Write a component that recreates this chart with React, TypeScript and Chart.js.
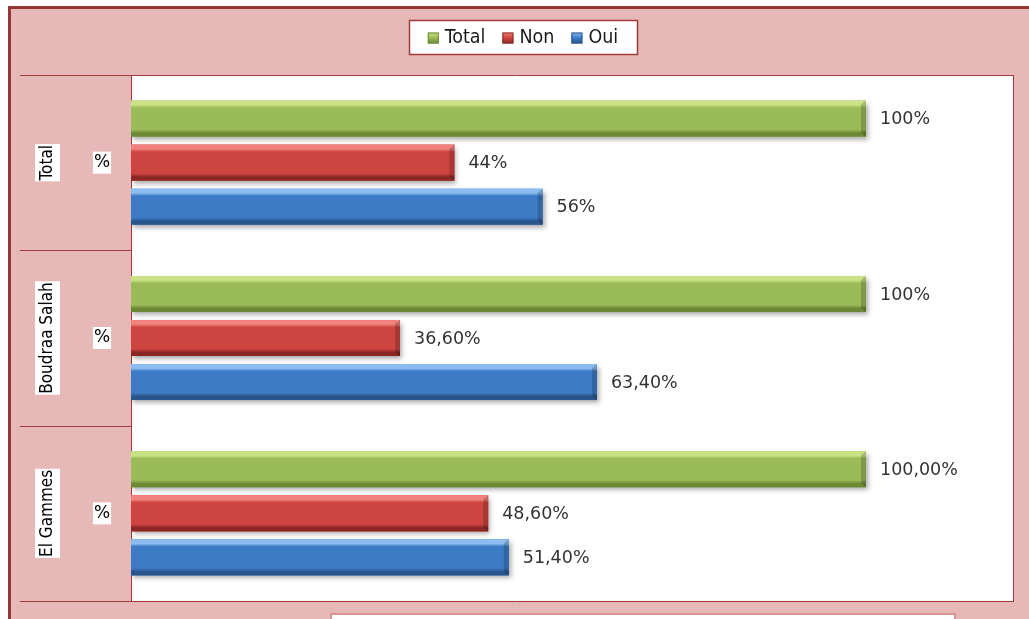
import React, { useEffect, useRef } from 'react';
import { Chart, registerables } from 'chart.js';
Chart.register(...registerables);

const categories = ['Total', 'Boudraa Salah', 'El Gammes'];
const subLabels = ['%', '%', '%'];
const seriesNames = ['Total', 'Non', 'Oui'];
const totalValues = [1.0, 1.0, 1.0];
const nonValues = [0.44, 0.366, 0.486];
const ouiValues = [0.56, 0.634, 0.514];
const totalLabels = ['100%', '100%', '100,00%'];
const nonLabels = ['44%', '36,60%', '48,60%'];
const ouiLabels = ['56%', '63,40%', '51,40%'];
const xMax = 1.2;

const palette = [
  { mid: '#9BBB59', light: '#C9E283', dark: '#6C8834' },
  { mid: '#CD4440', light: '#F0817D', dark: '#8A2725' },
  { mid: '#3D7BC6', light: '#8BBDF0', dark: '#2A558C' },
];
const valueLabels = [totalLabels, nonLabels, ouiLabels];

const PINK = '#E6B8B7';
const FRAME = '#953735';
const LINE = '#A23B3B';
const LEGEND_FONT = "19.5px 'DejaVu Sans Condensed', 'Liberation Sans Narrow', 'DejaVu Sans', sans-serif";
const CAT_FONT = "17px 'DejaVu Sans Condensed', 'Liberation Sans Narrow', 'DejaVu Sans', sans-serif";
const VALUE_FONT = "17.5px 'DejaVu Sans', Verdana, sans-serif";

const decorPlugin = {
  id: 'decor',
  beforeDraw(chart: any) {
    const { ctx, chartArea: ca, width, height } = chart;
    ctx.save();
    ctx.fillStyle = '#FFFFFF';
    ctx.fillRect(0, 0, width, height);
    ctx.fillStyle = FRAME;
    ctx.fillRect(8, 6, width - 8, 3);
    ctx.fillRect(8, 6, 3, height - 6);
    ctx.fillStyle = PINK;
    ctx.fillRect(11, 9, width - 11, height - 9);
    // plot area
    ctx.fillStyle = '#FFFFFF';
    ctx.fillRect(ca.left, ca.top, ca.right - ca.left, ca.bottom - ca.top);
    // bottom white box
    ctx.fillStyle = '#FFFFFF';
    ctx.fillRect(331, 614, 624, 10);
    ctx.strokeStyle = '#D99594';
    ctx.lineWidth = 2;
    ctx.strokeRect(331, 614, 624, 10);

    // category separators
    const ys = chart.scales.y;
    const n = categories.length;
    const bounds: number[] = [ca.top];
    for (let i = 0; i < n - 1; i++) {
      bounds.push((ys.getPixelForValue(i) + ys.getPixelForValue(i + 1)) / 2);
    }
    bounds.push(ca.bottom);
    ctx.strokeStyle = LINE;
    ctx.lineWidth = 1;
    ctx.beginPath();
    bounds.forEach((b, i) => {
      const yy = Math.round(b) + 0.5;
      const xEnd = i === 0 || i === bounds.length - 1 ? ca.right : ca.left;
      ctx.moveTo(20, yy);
      ctx.lineTo(xEnd, yy);
    });
    ctx.moveTo(Math.round(ca.left) + 0.5, ca.top);
    ctx.lineTo(Math.round(ca.left) + 0.5, ca.bottom + 1);
    ctx.moveTo(Math.round(ca.right) + 0.5, ca.top);
    ctx.lineTo(Math.round(ca.right) + 0.5, ca.bottom + 1);
    ctx.stroke();

    // legend
    const lx = 409, ly = 20, lw = 228, lh = 34;
    ctx.fillStyle = '#FFFFFF';
    ctx.fillRect(lx, ly, lw, lh);
    ctx.strokeStyle = LINE;
    ctx.lineWidth = 1.5;
    ctx.strokeRect(lx + 0.5, ly + 0.5, lw, lh);
    ctx.font = LEGEND_FONT;
    ctx.textBaseline = 'middle';
    const sq = 11, gapIn = 6, gapOut = 17;
    let total = 0;
    seriesNames.forEach((s, i) => {
      total += sq + gapIn + ctx.measureText(s).width + (i < seriesNames.length - 1 ? gapOut : 0);
    });
    let x = lx + (lw - total) / 2;
    const cy = ly + lh / 2 + 1;
    seriesNames.forEach((s, i) => {
      const p = palette[i];
      const g = ctx.createLinearGradient(0, cy - sq / 2, 0, cy + sq / 2);
      g.addColorStop(0, p.light);
      g.addColorStop(0.5, p.mid);
      g.addColorStop(1, p.dark);
      ctx.fillStyle = g;
      ctx.fillRect(x, cy - sq / 2, sq, sq);
      ctx.strokeStyle = p.dark;
      ctx.lineWidth = 1;
      ctx.strokeRect(x + 0.5, cy - sq / 2 + 0.5, sq - 1, sq - 1);
      x += sq + gapIn;
      ctx.fillStyle = '#1A1A1A';
      ctx.textAlign = 'left';
      ctx.fillText(s, x, cy);
      x += ctx.measureText(s).width + gapOut;
    });
    ctx.restore();
  },
  beforeDatasetsDraw(chart: any) {
    const ctx = chart.ctx;
    ctx.save();
    ctx.shadowColor = 'rgba(0,0,0,0.35)';
    ctx.shadowBlur = 5;
    ctx.shadowOffsetX = 2;
    ctx.shadowOffsetY = 3;
  },
  afterDatasetsDraw(chart: any) {
    const ctx = chart.ctx;
    ctx.restore();
    ctx.save();
    chart.data.datasets.forEach((ds: any, di: number) => {
      const meta = chart.getDatasetMeta(di);
      const p = palette[di];
      meta.data.forEach((el: any, i: number) => {
        const top = el.y - el.height / 2;
        const bot = el.y + el.height / 2;
        const left = el.base;
        const right = el.x;
        const g = ctx.createLinearGradient(0, top, 0, bot);
        g.addColorStop(0, p.light);
        g.addColorStop(0.12, p.light);
        g.addColorStop(0.2, p.mid);
        g.addColorStop(0.8, p.mid);
        g.addColorStop(0.9, p.dark);
        g.addColorStop(1, p.dark);
        ctx.fillStyle = g;
        ctx.fillRect(left, top, right - left, bot - top);
        // end bevel
        ctx.fillStyle = 'rgba(0,0,0,0.18)';
        ctx.beginPath();
        ctx.moveTo(right, top);
        ctx.lineTo(right, bot);
        ctx.lineTo(right - 5, bot - 4);
        ctx.lineTo(right - 5, top + 4);
        ctx.closePath();
        ctx.fill();
        // value label
        ctx.font = VALUE_FONT;
        ctx.fillStyle = '#333333';
        ctx.textAlign = 'left';
        ctx.textBaseline = 'middle';
        ctx.fillText(valueLabels[di][i], right + 14, el.y + 1);
      });
    });
    ctx.restore();
  },
  afterDraw(chart: any) {
    const { ctx } = chart;
    const ys = chart.scales.y;
    ctx.save();
    categories.forEach((c, i) => {
      const cy = ys.getPixelForValue(i);
      // rotated category name
      ctx.font = CAT_FONT;
      const w = ctx.measureText(c).width;
      const cx = 47;
      ctx.fillStyle = '#FFFFFF';
      ctx.fillRect(cx - 12, cy - w / 2 - 1, 25, w + 2);
      ctx.save();
      ctx.translate(cx, cy);
      ctx.rotate(-Math.PI / 2);
      ctx.fillStyle = '#000000';
      ctx.textAlign = 'center';
      ctx.textBaseline = 'middle';
      ctx.fillText(c, 0, 1);
      ctx.restore();
      // sub label
      ctx.font = "17px 'DejaVu Sans', sans-serif";
      const sw = ctx.measureText(subLabels[i]).width;
      const sx = 102;
      ctx.fillStyle = '#FFFFFF';
      ctx.fillRect(sx - sw / 2 - 1, cy - 11, sw + 2, 22);
      ctx.fillStyle = '#000000';
      ctx.textAlign = 'center';
      ctx.textBaseline = 'middle';
      ctx.fillText(subLabels[i], sx, cy);
    });
    ctx.restore();
  },
};

export default function App() {
  const ref = useRef<HTMLCanvasElement>(null);
  useEffect(() => {
    if (!ref.current) return;
    const chart = new Chart(ref.current, {
      type: 'bar',
      data: {
        labels: categories,
        datasets: [
          { label: seriesNames[0], data: totalValues, backgroundColor: palette[0].mid },
          { label: seriesNames[1], data: nonValues, backgroundColor: palette[1].mid },
          { label: seriesNames[2], data: ouiValues, backgroundColor: palette[2].mid },
        ],
      },
      options: {
        indexAxis: 'y',
        responsive: false,
        animation: false,
        layout: { padding: { left: 131, right: 16, top: 75, bottom: 18 } },
        datasets: { bar: { categoryPercentage: 0.753, barPercentage: 0.82 } },
        scales: {
          x: { display: false, min: 0, max: xMax },
          y: { display: false },
        },
        plugins: { legend: { display: false }, tooltip: { enabled: false } },
      },
      plugins: [decorPlugin],
    });
    return () => chart.destroy();
  }, []);
  return (
    <div style={{ position: 'fixed', left: 0, top: 0, width: 1029, height: 619 }}>
      <canvas ref={ref} width={1029} height={619} />
    </div>
  );
}
